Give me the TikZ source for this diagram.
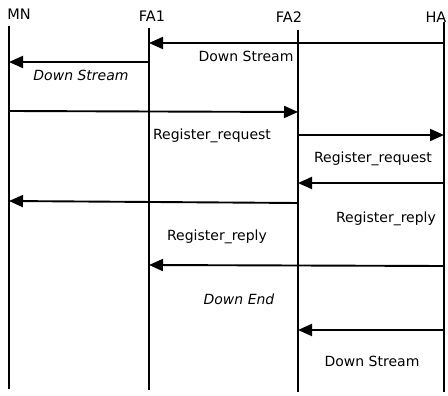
\documentclass[tikz,border=0pt]{standalone}
\usepackage{fontspec}
\setmainfont{DejaVu Sans}
\usetikzlibrary{arrows.meta}
\begin{document}
\begin{tikzpicture}[x=1pt,y=-1pt,
  lifeline/.style={line width=1.9pt},
  msg/.style={line width=1.9pt,-{Triangle[length=14pt,width=12pt]}},
  lbl/.style={font=\fontsize{14}{16}\selectfont,inner sep=0pt},
  ilbl/.style={lbl,font=\fontsize{14}{16}\selectfont\itshape},
  hdr/.style={font=\fontsize{14.5}{16}\selectfont,inner sep=0pt}]
\useasboundingbox (0,0) rectangle (448,396);
% headers
\node[hdr] (hMN) at (19,14) {MN};
\node[hdr] (hFA1) at (152,16) {FA1};
\node[hdr] (hFA2) at (289,17) {FA2};
\node[hdr] (hHA) at (436,17) {HA};
% lifelines
\coordinate (MNt) at (9,26);   \coordinate (MNb) at (9,389);
\coordinate (F1t) at (149,28); \coordinate (F1b) at (149,390);
\coordinate (F2t) at (298,30); \coordinate (F2b) at (298,392);
\coordinate (HAt) at (444,22); \coordinate (HAb) at (444,392);
\draw[lifeline] (MNt) -- (MNb);
\draw[lifeline] (F1t) -- (F1b);
\draw[lifeline] (F2t) -- (F2b);
\draw[lifeline] (HAt) -- (HAb);
% message end points
\coordinate (a1s) at (444,43);  \coordinate (a1e) at (149,43);
\coordinate (a2s) at (149,62);  \coordinate (a2e) at (9,62);
\coordinate (a3s) at (9,111);   \coordinate (a3e) at (298,112);
\coordinate (a4s) at (298,135); \coordinate (a4e) at (444,135);
\coordinate (a5s) at (444,183); \coordinate (a5e) at (298,183);
\coordinate (a6s) at (298,203); \coordinate (a6e) at (9,201);
\coordinate (a7s) at (444,266); \coordinate (a7e) at (149,265);
\coordinate (a8s) at (444,330); \coordinate (a8e) at (298,330);
\draw[msg] (a1s) -- (a1e);
\draw[msg] (a2s) -- (a2e);
\draw[msg] (a3s) -- (a3e);
\draw[msg] (a4s) -- (a4e);
\draw[msg] (a5s) -- (a5e);
\draw[msg] (a6s) -- (a6e);
\draw[msg] (a7s) -- (a7e);
\draw[msg] (a8s) -- (a8e);
% labels
\node[lbl] (l1) at (246,56) {Down Stream};
\node[ilbl] (l2) at (81,75) {Down Stream};
\node[lbl] (l3) at (212,136) {Register\_request};
\node[lbl] (l4) at (373,159) {Register\_request};
\node[lbl] (l5) at (386,219) {Register\_reply};
\node[lbl] (l6) at (217,237) {Register\_reply};
\node[ilbl] (l7) at (239,299) {Down End};
\node[lbl] (l8) at (372,361) {Down Stream};
\end{tikzpicture}
\end{document}
